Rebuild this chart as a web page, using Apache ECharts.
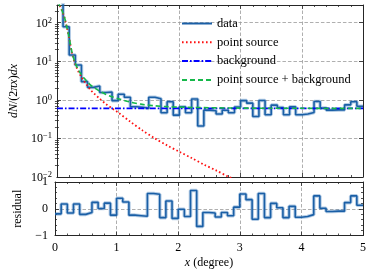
<!DOCTYPE html>
<html><head><meta charset="utf-8">
<script src="https://cdn.jsdelivr.net/npm/echarts@6/dist/echarts.min.js"></script>
<style>html,body{margin:0;padding:0;background:#fff}#c{width:373px;height:276px}</style>
</head><body><div id="c"></div>
<script>
// ---- data ----
const binStart = [0.0,0.1,0.2,0.3,0.4,0.5,0.6,0.7,0.8,0.9,
  1.0,1.1,1.2,1.3,1.4,1.5,1.6,1.7,1.8,1.9,
  2.0,2.1,2.2,2.3,2.4,2.5,2.6,2.7,2.8,2.9,
  3.0,3.1,3.2,3.3,3.4,3.5,3.6,3.7,3.8,3.9,
  4.0,4.1,4.2,4.3,4.4,4.5,4.6,4.7,4.8,4.9];
const binEnd = 5.0;
const dataValues = [400, 78, 14.5, 8.0, 2.95, 2.1, 2.28, 1.55, 1.6, 0.95,
  1.39, 1.16, 0.66, 0.64, 0.60, 1.16, 1.07, 0.46, 0.89, 0.40,
  0.66, 0.46, 1.05, 0.21, 0.54, 0.52, 0.43, 0.535, 0.46, 0.65,
  0.95, 0.82, 0.37, 0.96, 0.41, 0.73, 0.63, 0.41, 0.66, 0.41,
  0.43, 0.47, 0.90, 0.61, 0.54, 0.55, 0.55, 0.74, 0.89, 0.68];
const residualValues = [-0.19, 0.18, -0.16, 0.18, -0.21, -0.14, 0.24, 0.01, 0.21, -0.24,
  0.39, 0.25, -0.24, -0.26, -0.28, 0.57, 0.54, -0.33, 0.29, -0.36,
  -0.02, -0.29, 0.68, -0.66, -0.14, -0.16, -0.31, -0.14, -0.26, 0.06,
  0.55, 0.34, -0.39, 0.57, -0.33, 0.20, 0.04, -0.33, 0.09, -0.32,
  -0.29, -0.22, 0.48, 0.02, -0.10, -0.09, -0.09, 0.23, 0.48, 0.13];
const psX = [0.015,0.03,0.05,0.08,0.12,0.16,0.2,0.25,0.3,0.35,0.4,0.45,0.5,0.55,0.6,0.7,0.8,0.9,1.0,1.2,1.4,1.6,1.8,2.0,2.2,2.4,2.6,2.8,2.9];
const psY = [340,314,264,208,140,78,39,15.4,8.3,5.4,3.9,2.95,2.3,1.8,1.5,1.06,0.78,0.6,0.47,0.27,0.16,0.10,0.066,0.045,0.031,0.021,0.0148,0.0102,0.0088];
const bgX = [0, 5];
const bgY = [0.6, 0.6];
const totX = [0.015,0.03,0.05,0.08,0.12,0.16,0.2,0.25,0.3,0.35,0.4,0.45,0.5,0.55,0.6,0.7,0.8,0.9,1.0,1.2,1.4,1.6,1.8,2.0,2.5,3.0,3.5,4.0,4.5,5.0];
const totY = [340,315,265,209,141,79,40,16,8.9,6.0,4.5,3.55,2.9,2.4,2.1,1.66,1.38,1.2,1.07,0.87,0.76,0.70,0.665,0.645,0.622,0.61,0.605,0.602,0.601,0.6];
const seriesNames = ['data', 'point source', 'background', 'point source + background'];
const yDecadeMin = -2, yTopValue = 286;
const resMin = -1, resMax = 1;
const xMin = 0, xMax = 5;

// ---- build ----
const L = v => Math.log10(v);
const FONT = "'Liberation Serif', 'Times New Roman', serif";
const AX = '#262626';
const GRIDC = '#9a9a9a';
const yMaxLog = L(yTopValue);
const stepPts = binStart.map((x, i) => [x, L(dataValues[i])]);
stepPts.push([binEnd, L(dataValues[dataValues.length - 1])]);
const resPts = binStart.map((x, i) => [x, residualValues[i]]);
resPts.push([binEnd, residualValues[residualValues.length - 1]]);
const minorLog = [];
for (let e = yDecadeMin; e <= 2; e++) for (let k = 2; k <= 9; k++) {
  const v = L(k * Math.pow(10, e)); if (v < yMaxLog) minorLog.push(v);
}
const minus = s => String(s).replace('-', '\u2212');

function xAx(grid, pos, labels, split, extra) {
  return Object.assign({
    type: 'value', gridIndex: grid, position: pos, min: xMin, max: xMax, interval: 1,
    axisLine: {show: true, onZero: false, lineStyle: {color: AX, width: 1}},
    axisTick: {show: true, inside: true, length: 4, lineStyle: {color: AX, width: 0.8}},
    minorTick: {show: true, splitNumber: 5, length: 2, lineStyle: {color: AX, width: 0.8}},
    axisLabel: {show: labels, margin: 6, color: '#000', fontFamily: FONT, fontSize: 12},
    splitLine: {show: split, lineStyle: {color: GRIDC, type: [3.5, 2], width: 0.8}}
  }, extra || {});
}
function yMain(pos, labels, split, extra) {
  return Object.assign({
    type: 'value', gridIndex: 0, position: pos, min: yDecadeMin, max: yMaxLog, interval: 1,
    axisLine: {show: true, onZero: false, lineStyle: {color: AX, width: 1}},
    axisTick: {show: true, inside: true, length: 4, lineStyle: {color: AX, width: 0.8}},
    axisLabel: {show: labels, margin: 5, color: '#000', fontFamily: FONT, fontSize: 12,
      formatter: v => (Math.abs(v - Math.round(v)) < 1e-6) ? '{b|10}{s|' + minus(Math.round(v)) + '}' : '',
      rich: {
        b: {fontFamily: FONT, fontSize: 12, color: '#000', verticalAlign: 'bottom'},
        s: {fontFamily: FONT, fontSize: 8.5, color: '#000', verticalAlign: 'bottom', padding: [0, 0, 4.5, 0]}
      }},
    splitLine: {show: split, lineStyle: {color: GRIDC, type: [3.5, 2], width: 0.8}}
  }, extra || {});
}
function yMinor(pos) {
  return {
    type: 'value', gridIndex: 0, position: pos, min: yDecadeMin, max: yMaxLog,
    axisLine: {show: false},
    axisTick: {show: true, inside: true, length: 2, customValues: minorLog, lineStyle: {color: AX, width: 0.8}},
    axisLabel: {show: false}, splitLine: {show: false}
  };
}
function yRes(pos, labels, split, extra) {
  return Object.assign({
    type: 'value', gridIndex: 1, position: pos, min: resMin, max: resMax, interval: 1,
    axisLine: {show: true, onZero: false, lineStyle: {color: AX, width: 1}},
    axisTick: {show: true, inside: true, length: 4, lineStyle: {color: AX, width: 0.8}},
    minorTick: {show: true, splitNumber: 5, length: 2, lineStyle: {color: AX, width: 0.8}},
    axisLabel: {show: labels, margin: 7, color: '#000', fontFamily: FONT, fontSize: 12, formatter: v => minus(v)},
    splitLine: {show: split, lineStyle: {color: GRIDC, type: [3.5, 2], width: 0.8}}
  }, extra || {});
}

const option = {
  animation: false,
  backgroundColor: '#fff',
  grid: [
    {left: 55, right: 10, top: 5, height: 172},
    {left: 55, right: 10, top: 182, height: 53.5}
  ],
  xAxis: [
    xAx(0, 'bottom', false, true),
    xAx(0, 'top', false, false),
    xAx(1, 'bottom', true, true, {
      name: '{i|x} (degree)', nameLocation: 'middle', nameGap: 21,
      nameTextStyle: {fontFamily: FONT, fontSize: 12, color: '#000',
        rich: {i: {fontFamily: FONT, fontSize: 12, fontStyle: 'italic', color: '#000'}}}
    }),
    xAx(1, 'top', false, false)
  ],
  yAxis: [
    yMain('left', true, true, {
      name: '{i|dN}/(2{i|\u03c0x}){i|dx}', nameLocation: 'middle', nameRotate: 90, nameGap: 35,
      nameTextStyle: {fontFamily: FONT, fontSize: 12, color: '#000',
        rich: {i: {fontFamily: FONT, fontSize: 12, fontStyle: 'italic', color: '#000'}}}
    }),
    yMain('right', false, false),
    yMinor('left'),
    yMinor('right'),
    yRes('left', true, true, {
      name: 'residual', nameLocation: 'middle', nameRotate: 90, nameGap: 27,
      nameTextStyle: {fontFamily: FONT, fontSize: 12, color: '#000'}
    }),
    yRes('right', false, false)
  ],
  legend: {
    data: seriesNames, orient: 'vertical', left: 176, top: 12,
    itemWidth: 30, itemHeight: 12, itemGap: 5.8,
    itemStyle: {opacity: 0},
    textStyle: {fontFamily: FONT, fontSize: 12.5, color: '#000'}
  },
  series: [
    {name: 'halo', type: 'line', xAxisIndex: 0, yAxisIndex: 0, data: stepPts, step: 'end',
      symbol: 'none', silent: true, lineStyle: {color: 'rgba(40,110,180,0.35)', width: 3.6}},
    {name: seriesNames[0], type: 'line', xAxisIndex: 0, yAxisIndex: 0, data: stepPts, step: 'end',
      symbol: 'none', lineStyle: {color: '#1a5fa6', width: 1.6}, itemStyle: {color: '#1a5fa6'}},
    {name: seriesNames[1], type: 'line', xAxisIndex: 0, yAxisIndex: 0,
      data: psX.map((x, i) => [x, L(psY[i])]), smooth: 0.3, symbol: 'none',
      lineStyle: {color: '#ff1010', width: 1.8, type: [1.6, 2.4]}, itemStyle: {color: '#ff1010'}},
    {name: seriesNames[2], type: 'line', xAxisIndex: 0, yAxisIndex: 0,
      data: bgX.map((x, i) => [x, L(bgY[i])]), symbol: 'none',
      lineStyle: {color: '#0000ff', width: 1.8, type: [6, 2, 1.6, 2]}, itemStyle: {color: '#0000ff'}},
    {name: seriesNames[3], type: 'line', xAxisIndex: 0, yAxisIndex: 0,
      data: totX.map((x, i) => [x, L(totY[i])]), smooth: 0.3, symbol: 'none',
      lineStyle: {color: '#16b84a', width: 1.6, type: [5, 3]}, itemStyle: {color: '#16b84a'}},
    {name: 'residHalo', type: 'line', xAxisIndex: 2, yAxisIndex: 4, data: resPts, step: 'end',
      symbol: 'none', silent: true, lineStyle: {color: 'rgba(40,110,180,0.35)', width: 3.6}},
    {name: 'residual', type: 'line', xAxisIndex: 2, yAxisIndex: 4, data: resPts, step: 'end',
      symbol: 'none', lineStyle: {color: '#1a5fa6', width: 1.6}}
  ]
};
const chart = echarts.init(document.getElementById('c'), null, {width: 373, height: 276});
chart.setOption(option);
</script>
</body></html>
